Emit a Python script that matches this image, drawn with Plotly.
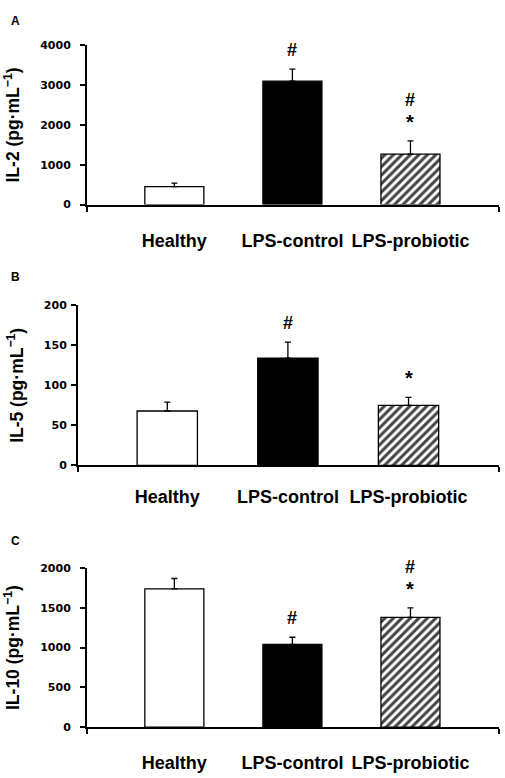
import plotly.graph_objects as go

categories = ["Healthy", "LPS-control", "LPS-probiotic"]

il2_mean = [450, 3100, 1270]
il2_err = [90, 300, 330]
il2_sig = [[], ["#"], ["*", "#"]]

il5_mean = [68, 134, 75]
il5_err = [11, 20, 10]
il5_sig = [[], ["#"], ["*"]]

il10_mean = [1740, 1040, 1380]
il10_err = [130, 90, 120]
il10_sig = [[], ["#"], ["*", "#"]]

W, H = 505, 778
FONT = "Liberation Sans, Arial, sans-serif"
TICKFONT = "DejaVu Sans, Verdana, sans-serif"

panels = [
    dict(letter="A", title="IL-2 (pg·mL<sup>−1</sup>)", mean=il2_mean, err=il2_err, sig=il2_sig,
         yr=[0, 4000], dt=1000, x0=87, ytop=40, ybot=202, tls=7, xls=19, ly=15),
    dict(letter="B", title="IL-5 (pg·mL<sup>−1</sup>)", mean=il5_mean, err=il5_err, sig=il5_sig,
         yr=[0, 200], dt=50, x0=78, ytop=304.3, ybot=467.3, tls=2, xls=14, ly=276),
    dict(letter="C", title="IL-10 (pg·mL<sup>−1</sup>)", mean=il10_mean, err=il10_err, sig=il10_sig,
         yr=[0, 2000], dt=500, x0=87, ytop=571.7, ybot=733.3, tls=7, xls=18, ly=544),
]

fills = ["white", "black", "white"]
patterns = ["", "", "/"]

fig = go.Figure()
annotations = []
for i, p in enumerate(panels, start=1):
    xa = "x" if i == 1 else f"x{i}"
    ya = "y" if i == 1 else f"y{i}"
    fig.add_trace(go.Bar(
        x=categories, y=p["mean"], xaxis=xa, yaxis=ya, width=0.5,
        marker=dict(color=fills, line=dict(color="black", width=1.3),
                    pattern=dict(shape=patterns, fgcolor="black", bgcolor="white",
                                 fgopacity=1, size=6, solidity=0.5, fillmode="overlay")),
        error_y=dict(type="data", symmetric=False, array=p["err"],
                     arrayminus=[0] * 3, color="black", thickness=1.3, width=3),
        showlegend=False, hoverinfo="skip",
    ))
    dom_x = [p["x0"] / W, 499 / W]
    dom_y = [(H - p["ybot"]) / H, (H - p["ytop"]) / H]
    suffix = "" if i == 1 else str(i)
    fig.layout["xaxis" + suffix] = dict(
        domain=dom_x, anchor=ya, type="category", range=[-0.74, 2.75],
        showline=True, linecolor="black", linewidth=2, ticks="",
        ticklabelstandoff=p["xls"],
        tickfont=dict(family=FONT, size=18, color="black", weight="bold"),
        minor=dict(tickmode="array", tickvals=[-0.74, 2.75], ticks="outside",
                   ticklen=5, tickwidth=2, tickcolor="black"),
        showgrid=False, zeroline=False, fixedrange=True,
    )
    fig.layout["yaxis" + suffix] = dict(
        domain=dom_y, anchor=xa, range=p["yr"], dtick=p["dt"], tick0=0,
        showline=True, linecolor="black", linewidth=2, ticks="outside",
        ticklen=5, tickwidth=2, tickcolor="black", ticklabelstandoff=p["tls"],
        tickfont=dict(family=TICKFONT, size=11, color="black", weight="bold"),
        title=dict(text=p["title"], standoff=16,
                   font=dict(family=FONT, size=17.5, color="black", weight="bold")),
        showgrid=False, zeroline=False, fixedrange=True,
    )
    annotations.append(dict(text=p["letter"], xref="paper", yref="paper",
                            x=15 / W, y=(H - p["ly"]) / H,
                            showarrow=False, xanchor="center", yanchor="middle",
                            font=dict(family=FONT, size=12, color="black", weight="bold")))
    for c, m, e, s in zip(categories, p["mean"], p["err"], p["sig"]):
        for k, sym in enumerate(s):
            annotations.append(dict(text=sym, x=c, y=m + e, xref=xa, yref=ya,
                                    showarrow=False, xanchor="center", yanchor="middle",
                                    yshift=19 + 22 * k,
                                    font=dict(family=FONT, size=18 if sym == "#" else 20,
                                              color="black", weight="bold")))

fig.update_layout(
    width=W, height=H, margin=dict(l=0, r=0, t=0, b=0),
    paper_bgcolor="white", plot_bgcolor="white",
    annotations=annotations, bargap=0.5,
)

fig.write_html("out.html", config={"displayModeBar": False},
               post_script="document.body.style.margin='0';document.body.style.overflow='hidden';")
